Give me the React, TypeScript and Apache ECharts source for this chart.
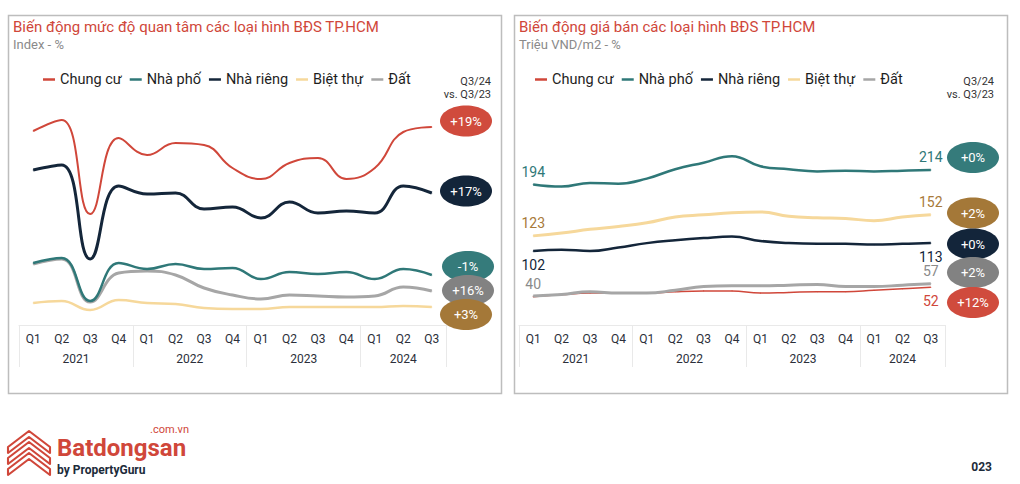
import React, { useEffect, useRef } from 'react';
import * as echarts from 'echarts';

const FONT = 'Roboto, "Noto Sans", sans-serif';

// ---- categories ----
const quarters = ['Q1', 'Q2', 'Q3', 'Q4', 'Q1', 'Q2', 'Q3', 'Q4', 'Q1', 'Q2', 'Q3', 'Q4', 'Q1', 'Q2', 'Q3'];
const years = ['2021', '2022', '2023', '2024'];
const quartersPerYear = [4, 4, 4, 3];
const seriesNames = ['Chung cư', 'Nhà phố', 'Nhà riêng', 'Biệt thự', 'Đất'];

// ---- left chart: interest index ----
const intChungCu = [194, 205, 111, 187, 170, 182, 180, 157, 146, 162, 167, 146, 157, 193, 198];
const intNhaPho = [62, 67, 24, 62, 56, 61, 56, 57, 46, 53, 51, 53, 46, 56, 50];
const intNhaRieng = [155, 160, 66, 139, 131, 132, 116, 118, 107, 123, 112, 114, 112, 139, 132];
const intBietThu = [22, 24, 15, 25, 22, 21, 17, 16, 16, 18, 18, 18, 18, 19, 18];
const intDat = [61, 66, 23, 52, 54, 50, 37, 30, 26, 30, 29, 28, 29, 38, 34];
const intChanges = ['+19%', '+17%', '-1%', '+16%', '+3%'];

// ---- right chart: price (million VND / m2) ----
const priceChungCu = [39, 42, 44, 44, 44, 46, 47, 47, 44, 45, 46, 46, 48, 50, 52];
const priceNhaPho = [194, 191, 196, 195, 202, 215, 224, 233, 219, 215, 212, 213, 212, 213, 214];
const priceNhaRieng = [102, 104, 102, 107, 113, 117, 120, 122, 116, 113, 112, 112, 111, 112, 113];
const priceBietThu = [123, 127, 132, 136, 141, 149, 152, 155, 156, 150, 148, 147, 144, 149, 152];
const priceDat = [40, 42, 46, 44, 44, 48, 53, 54, 54, 55, 56, 53, 53, 55, 57];
const priceChanges = ['+0%', '+2%', '+0%', '+2%', '+12%'];

const C = {
  red: '#d0473a',
  teal: '#2f7878',
  navy: '#14263a',
  yellow: '#f6d89b',
  gray: '#a6a6a6',
};
const BUBBLE = {
  red: '#d04b3d',
  navy: '#13253a',
  teal: '#357b7b',
  gray: '#828282',
  gold: '#a47838',
};
const LABEL = {
  teal: '#2f7878',
  gold: '#a87a3a',
  navy: '#14263a',
  gray: '#8a8a8a',
  red: '#d0473a',
};

// year boundaries & midpoints
const yearBounds: number[] = [0];
quartersPerYear.forEach((q) => yearBounds.push(yearBounds[yearBounds.length - 1] + q));
const yearMids = quartersPerYear.map((q, i) => yearBounds[i] + q / 2);

function withLabels(values: number[], color: string, startPos: string | null, endPos: string | null) {
  return values.map((v, i) => {
    let pos: string | null = null;
    if (i === 0) pos = startPos;
    if (i === values.length - 1) pos = endPos;
    if (!pos) return v;
    return {
      value: v,
      label: {
        show: true,
        position: pos,
        distance: pos === 'top' ? 5 : 6,
        color,
        fontSize: 14,
        fontFamily: FONT,
      },
    };
  });
}

function makeXAxes(gridLine: number, gridYear: number) {
  return [
    {
      type: 'category',
      gridIndex: gridLine,
      data: quarters,
      boundaryGap: true,
      axisLine: { show: false },
      axisTick: { show: false },
      axisLabel: { interval: 0, margin: 8, color: '#2b2f3a', fontSize: 12, fontFamily: FONT },
    },
    {
      type: 'value',
      gridIndex: gridYear,
      min: 0,
      max: yearBounds[yearBounds.length - 1],
      position: 'bottom',
      splitLine: { show: false },
      axisLine: { show: true, lineStyle: { color: '#e9e9e9', width: 1 } },
      axisTick: { show: true, customValues: yearBounds, length: 42, lineStyle: { color: '#e9e9e9', width: 1 } },
      axisLabel: {
        customValues: yearMids,
        margin: 28,
        color: '#2b2f3a',
        fontSize: 12,
        fontFamily: FONT,
        formatter: (v: number) => {
          const idx = yearMids.findIndex((m) => Math.abs(m - v) < 1e-6);
          return idx >= 0 ? years[idx] : '';
        },
      },
    },
  ];
}

function line(name: string, data: any[], color: string, width: number, xi: number, yi: number, z: number) {
  return {
    type: 'line',
    name,
    data,
    xAxisIndex: xi,
    yAxisIndex: yi,
    smooth: 0.45,
    showSymbol: true,
    symbol: 'circle',
    symbolSize: 1,
    z,
    lineStyle: { color, width },
    itemStyle: { color },
    emphasis: { disabled: true },
  };
}

function bubble(cx: number, cy: number, fill: string, text: string) {
  return [
    { type: 'ellipse', shape: { cx, cy, rx: 26, ry: 15.5 }, style: { fill }, z: 100 },
    {
      type: 'text',
      x: cx,
      y: cy,
      z: 101,
      style: { text, fill: '#fff', font: `13px ${FONT}`, textAlign: 'center', textVerticalAlign: 'middle' },
    },
  ];
}

function txt(x: number, y: number, text: string, fill: string, font: string, align = 'left', extra: any = {}) {
  return { type: 'text', x, y, z: 100, style: { text, fill, font, textAlign: align, textVerticalAlign: 'middle', ...extra } };
}

// logo path (stacked roof chevrons)
const logoD = [0, 11, 22]
  .map((k) => `M0 ${16 + k} L20 ${k} L40 ${16 + k} L40 ${22 + k} L20 ${6 + k} L0 ${22 + k} Z`)
  .join(' ');
echarts.graphic.registerShape('logo', echarts.graphic.extendPath(logoD, {}) as any);

const legendCommon = {
  data: seriesNames,
  icon: 'rect',
  itemWidth: 12,
  itemHeight: 2.5,
  itemGap: 8,
  padding: 0,
  selectedMode: false,
  textStyle: { fontSize: 14.5, color: '#1e1e1e', fontFamily: FONT },
};

const rightTop = 325 - 300 / 1.38;

const option: any = {
  animation: false,
  backgroundColor: '#ffffff',
  legend: [
    { ...legendCommon, left: 43, top: 72 },
    { ...legendCommon, left: 535, top: 72 },
  ],
  grid: [
    { left: 19, width: 427, top: 105, height: 220 },
    { left: 19, width: 427, top: 105, height: 220 },
    { left: 519, width: 426, top: rightTop, height: 325 - rightTop },
    { left: 519, width: 426, top: rightTop, height: 325 - rightTop },
  ],
  xAxis: [...makeXAxes(0, 1), ...makeXAxes(2, 3)],
  yAxis: [
    { type: 'value', gridIndex: 0, min: 0, max: 220, show: false },
    { type: 'value', gridIndex: 1, min: 0, max: 1, show: false },
    { type: 'value', gridIndex: 2, min: 0, max: 300, show: false },
    { type: 'value', gridIndex: 3, min: 0, max: 1, show: false },
  ],
  series: [
    line('Biệt thự', intBietThu, C.yellow, 2.5, 0, 0, 2),
    line('Đất', intDat, C.gray, 3, 0, 0, 3),
    line('Nhà phố', intNhaPho, C.teal, 2.5, 0, 0, 4),
    line('Nhà riêng', intNhaRieng, C.navy, 3, 0, 0, 5),
    line('Chung cư', intChungCu, C.red, 2, 0, 0, 6),

    line('Chung cư', withLabels(priceChungCu, LABEL.red, null, 'bottom'), C.red, 1.5, 2, 2, 2),
    line('Đất', withLabels(priceDat, LABEL.gray, 'top', 'top'), C.gray, 3, 2, 2, 3),
    line('Biệt thự', withLabels(priceBietThu, LABEL.gold, 'top', 'top'), C.yellow, 3, 2, 2, 4),
    line('Nhà riêng', withLabels(priceNhaRieng, LABEL.navy, 'bottom', 'bottom'), C.navy, 2.5, 2, 2, 5),
    line('Nhà phố', withLabels(priceNhaPho, LABEL.teal, 'top', 'top'), C.teal, 2.5, 2, 2, 6),
  ],
  graphic: [
    { type: 'rect', shape: { x: 8.5, y: 15.5, width: 493, height: 378 }, style: { fill: 'none', stroke: '#bdbdbd', lineWidth: 1.5 }, z: 0 },
    { type: 'rect', shape: { x: 514.5, y: 15.5, width: 493, height: 378 }, style: { fill: 'none', stroke: '#bdbdbd', lineWidth: 1.5 }, z: 0 },
    txt(13, 26.5, 'Biến động mức độ quan tâm các loại hình BĐS TP.HCM', '#d0473a', `15px ${FONT}`),
    txt(13, 44, 'Index - %', '#8a8a8a', `13px ${FONT}`),
    txt(519, 26.5, 'Biến động giá bán các loại hình BĐS TP.HCM', '#d0473a', `15px ${FONT}`),
    txt(519, 44, 'Triệu VND/m2 - %', '#8a8a8a', `13px ${FONT}`),
    txt(491, 81, 'Q3/24', '#333333', `11px ${FONT}`, 'right'),
    txt(491, 94, 'vs. Q3/23', '#333333', `11px ${FONT}`, 'right'),
    txt(994, 81, 'Q3/24', '#333333', `11px ${FONT}`, 'right'),
    txt(994, 94, 'vs. Q3/23', '#333333', `11px ${FONT}`, 'right'),
    ...bubble(466, 121, BUBBLE.red, intChanges[0]),
    ...bubble(466, 191, BUBBLE.navy, intChanges[1]),
    ...bubble(468, 266.5, BUBBLE.teal, intChanges[2]),
    ...bubble(468, 290.5, BUBBLE.gray, intChanges[3]),
    ...bubble(466, 314.5, BUBBLE.gold, intChanges[4]),
    ...bubble(973, 157.5, BUBBLE.teal, priceChanges[0]),
    ...bubble(973, 213, BUBBLE.gold, priceChanges[1]),
    ...bubble(973, 244, BUBBLE.navy, priceChanges[2]),
    ...bubble(973, 272.5, BUBBLE.gray, priceChanges[3]),
    ...bubble(973, 302.5, BUBBLE.red, priceChanges[4]),
    {
      type: 'logo',
      x: 8,
      y: 431,
      scaleX: 1.05,
      scaleY: 1,
      style: { fill: 'none', stroke: '#d0473a', lineWidth: 2, lineJoin: 'round' },
      z: 100,
    },
    txt(57, 448, 'Batdongsan', '#d0473a', `bold 24px ${FONT}`),
    txt(189, 429, '.com.vn', '#d0473a', `11px ${FONT}`, 'right'),
    txt(57, 469.5, 'by PropertyGuru', '#1c2b3a', `bold 12px ${FONT}`),
    txt(992, 467, '023', '#1c2b3a', `bold 12px ${FONT}`, 'right'),
  ],
};

export default function App() {
  const ref = useRef<HTMLDivElement>(null);
  useEffect(() => {
    const chart = echarts.init(ref.current!, null, { renderer: 'svg' });
    chart.setOption(option);
    return () => chart.dispose();
  }, []);
  return (
    <div
      ref={ref}
      style={{ position: 'absolute', left: 0, top: 0, width: 1020, height: 484, background: '#fff' }}
    />
  );
}
